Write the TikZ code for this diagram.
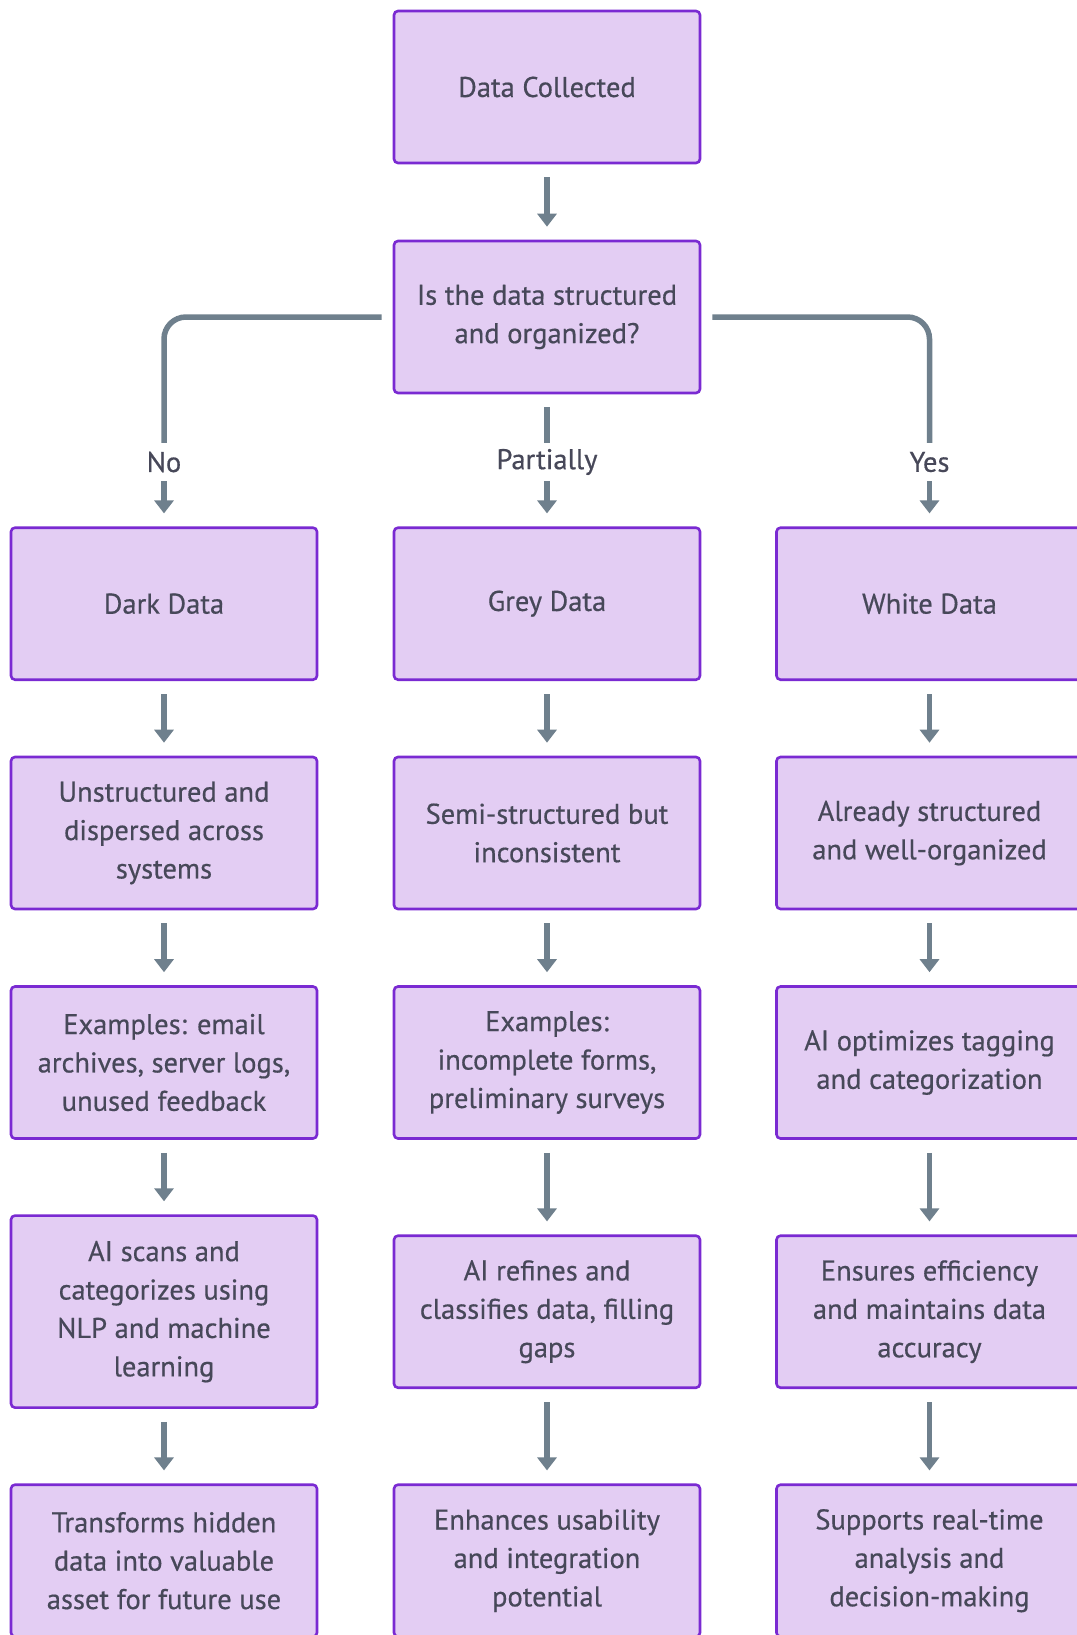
\documentclass[tikz,border=0pt]{standalone}
\usepackage{fontspec}
\setmainfont{PT Sans}
\newfontfamily\chartfont{PT Sans}[FakeBold=0.5]
\usetikzlibrary{arrows.meta}
\definecolor{boxfill}{HTML}{E3CDF3}
\definecolor{boxedge}{HTML}{7A2AD2}
\definecolor{txt}{HTML}{474859}
\definecolor{conn}{HTML}{6F808D}
\begin{document}
\begin{tikzpicture}[x=1pt,y=-1pt,
  box/.style={draw=boxedge,fill=boxfill,line width=2.6pt,rounded corners=4pt,
    minimum width=306pt,minimum height=152pt,align=center,text=txt,
    font=\chartfont\fontsize{28.5}{38.4}\selectfont,inner sep=0pt},
  tall/.style={box,minimum height=192pt},
  lbl/.style={text=txt,font=\chartfont\fontsize{28.5}{38.4}\selectfont,inner sep=0pt,
    minimum height=38pt},
  link/.style={draw=conn,line width=5.5pt},
  flow/.style={link,-{Triangle[width=19pt,length=13pt]},shorten <=13pt,shorten >=13pt}]
\useasboundingbox (0,0) rectangle (1076,1635);
\fill[white] (0,0) rectangle (1076,1635);

% top of the chart
\node[box] (collected) at (547,87) {Data Collected};
\node[box] (question) at (547,317) {Is the data structured\\and organized?};

% branch labels
\node[lbl] (no) at (164,462) {No};
\node[lbl] (partly) at (547,462) {Partially};
\node[lbl] (yes) at (929.5,462) {Yes};

% left column
\node[box] (dark) at (164,603.7) {Dark Data};
\node[box] (darkA) at (164,833) {Unstructured and\\dispersed across\\systems};
\node[box] (darkB) at (164,1062.5) {Examples: email\\archives, server logs,\\unused feedback};
\node[tall] (darkC) at (164,1311.6) {AI scans and\\categorizes using\\NLP and machine\\learning};
\node[box] (darkD) at (164,1560.7) {Transforms hidden\\data into valuable\\asset for future use};

% middle column
\node[box] (grey) at (547,603.7) {Grey Data};
\node[box] (greyA) at (547,833) {Semi-structured but\\inconsistent};
\node[box] (greyB) at (547,1062.5) {Examples:\\incomplete forms,\\preliminary surveys};
\node[box] (greyC) at (547,1311.7) {AI refines and\\classifies data, filling\\gaps};
\node[box] (greyD) at (547,1560.7) {Enhances usability\\and integration\\potential};

% right column
\node[box] (white) at (929.5,603.7) {White Data};
\node[box] (whiteA) at (929.5,833) {Already structured\\and well-organized};
\node[box] (whiteB) at (929.5,1062.5) {AI optimizes tagging\\and categorization};
\node[box] (whiteC) at (929.5,1311.7) {Ensures efficiency\\and maintains data\\accuracy};
\node[box] (whiteD) at (929.5,1560.7) {Supports real-time\\analysis and\\decision-making};

% connectors
\draw[flow] (collected) -- (question);
\draw[link,rounded corners=22pt,shorten <=11pt] (question.west) -| (no.north);
\draw[link,shorten <=13pt] (question.south) -- (partly.north);
\draw[link,rounded corners=22pt,shorten <=11pt] (question.east) -| (yes.north);
\draw[flow,shorten <=0pt] (no.south) -- (dark.north);
\draw[flow,shorten <=0pt] (partly.south) -- (grey.north);
\draw[flow,shorten <=0pt] (yes.south) -- (white.north);

\draw[flow] (dark) -- (darkA);
\draw[flow] (darkA) -- (darkB);
\draw[flow] (darkB) -- (darkC);
\draw[flow] (darkC) -- (darkD);
\draw[flow] (grey) -- (greyA);
\draw[flow] (greyA) -- (greyB);
\draw[flow] (greyB) -- (greyC);
\draw[flow] (greyC) -- (greyD);
\draw[flow] (white) -- (whiteA);
\draw[flow] (whiteA) -- (whiteB);
\draw[flow] (whiteB) -- (whiteC);
\draw[flow] (whiteC) -- (whiteD);
\end{tikzpicture}
\end{document}
